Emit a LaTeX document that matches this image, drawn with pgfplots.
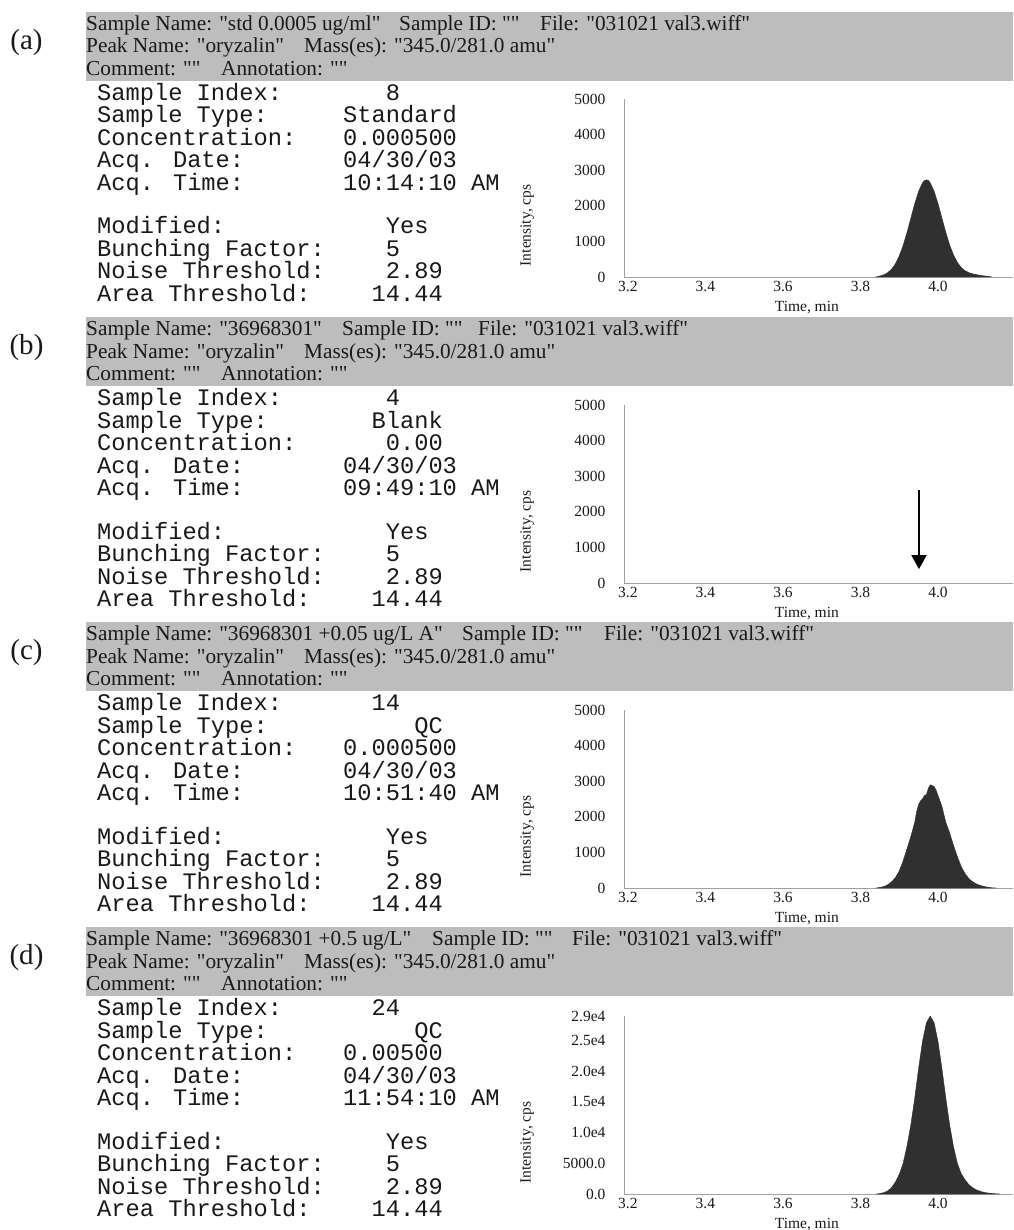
\documentclass[border=0pt]{standalone}
\usepackage{fontspec}
\setmainfont{Liberation Serif}[Ligatures=TeXOff]
\newfontfamily\mono{Liberation Mono}
\usepackage{pgfplots}
\pgfplotsset{compat=1.18}
\usetikzlibrary{arrows.meta}
\definecolor{band}{RGB}{189,189,189}
\definecolor{axgray}{RGB}{160,160,160}
\definecolor{peak}{RGB}{48,48,48}
\definecolor{txt}{RGB}{25,25,25}

\tikzset{hd/.style={anchor=base west, inner sep=0pt, text=txt, font=\fontsize{21.3}{22}\selectfont},
         ms/.style={anchor=base west, inner sep=0pt, text=txt, font=\mono\fontsize{23.7}{24}\selectfont}}

\newcommand{\header}[5]{%
  \fill[band] (86pt,{-(#1)*1pt}) rectangle (1013pt,{-(#1+69)*1pt});
  \node[anchor=center, inner sep=0pt, text=txt, font=\fontsize{29}{30}\selectfont] at (26.5pt,{-(#1+31)*1pt}) {(#2)};
  \node[hd] at (86pt,{-(#1+18.5)*1pt}) {Sample Name: "#3"};
  \node[hd] at (#4pt,{-(#1+18.5)*1pt}) {Sample ID: ""};
  \node[hd] at (#5pt,{-(#1+18.5)*1pt}) {File: "031021 val3.wiff"};
  \node[hd] at (86pt,{-(#1+41)*1pt}) {Peak Name: "oryzalin"};
  \node[hd] at (304pt,{-(#1+41)*1pt}) {Mass(es): "345.0/281.0 amu"};
  \node[hd] at (86pt,{-(#1+63.5)*1pt}) {Comment: ""};
  \node[hd] at (221pt,{-(#1+63.5)*1pt}) {Annotation: ""};
}
% #1 top, #2 index, #3 index col, #4 type, #5 type col, #6 conc, #7 conc col, #8 time
\newcommand{\info}[8]{%
  \node[ms] at (97pt,{-(#1+88.5)*1pt}) {Sample Index:};
  \node[ms] at (97pt,{-(#1+111)*1pt}) {Sample Type:};
  \node[ms] at (97pt,{-(#1+133.5)*1pt}) {Concentration:};
  \node[ms] at (97pt,{-(#1+156)*1pt}) {Acq. Date:};
  \node[ms] at (97pt,{-(#1+178.5)*1pt}) {Acq. Time:};
  \node[ms] at (97pt,{-(#1+222)*1pt}) {Modified:};
  \node[ms] at (97pt,{-(#1+244.5)*1pt}) {Bunching Factor:};
  \node[ms] at (97pt,{-(#1+267)*1pt}) {Noise Threshold:};
  \node[ms] at (97pt,{-(#1+289.5)*1pt}) {Area Threshold:};
  \node[ms] at ({(343+#3*14.22)*1pt},{-(#1+88.5)*1pt}) {#2};
  \node[ms] at ({(343+#5*14.22)*1pt},{-(#1+111)*1pt}) {#4};
  \node[ms] at ({(343+#7*14.22)*1pt},{-(#1+133.5)*1pt}) {#6};
  \node[ms] at (343pt,{-(#1+156)*1pt}) {04/30/03};
  \node[ms] at (343pt,{-(#1+178.5)*1pt}) {#8};
  \node[ms] at ({(343+3*14.22)*1pt},{-(#1+222)*1pt}) {Yes};
  \node[ms] at ({(343+3*14.22)*1pt},{-(#1+244.5)*1pt}) {5};
  \node[ms] at ({(343+3*14.22)*1pt},{-(#1+267)*1pt}) {2.89};
  \node[ms] at ({(343+2*14.22)*1pt},{-(#1+289.5)*1pt}) {14.44};
}

\pgfplotsset{chrom/.style={
  scale only axis, width=389pt, height=178pt,
  xmin=3.19, xmax=4.1935, ymin=0,
  axis lines=left, axis line style={-, axgray, line width=0.8pt},
  xtick={3.2,3.4,3.6,3.8,4.0}, xticklabels={3.2,3.4,3.6,3.8,4.0},
  major tick length=0pt, scaled ticks=false,
  tick label style={font=\fontsize{15.5}{16}\selectfont, text=txt},
  /pgf/number format/assume math mode=true,
  yticklabel style={xshift=-15pt},
  xticklabel style={yshift=-1pt},
  xlabel={Time, min}, ylabel={Intensity, cps},
  label style={font=\fontsize{15.5}{16}\selectfont, text=txt},
  xlabel style={at={(axis description cs:0.47,-0.169)}, anchor=center},
  ylabel style={at={(axis description cs:-0.249,0.29)}, anchor=center},
  clip=false,
},
lowy/.style={ymax=5000, ytick={0,1000,2000,3000,4000,5000},
  yticklabels={0,1000,2000,3000,4000,5000}},
pk/.style={fill=peak, draw=peak, line width=0.4pt}
}

\begin{document}
\begin{tikzpicture}
\path[use as bounding box] (0pt,0pt) rectangle (1013pt,-1230pt);

% ---------- (a)
\header{12}{a}{std 0.0005 ug/ml}{399}{540}
\info{12}{8}{3}{Standard}{0}{0.000500}{0}{10:14:10 AM}
\begin{axis}[chrom, lowy, at={(624pt,-277pt)}, anchor=south west]
\addplot[pk] coordinates {(3.84,0) (3.85,30) (3.86,62) (3.87,120) (3.88,217) (3.89,369) (3.90,591) (3.91,886) (3.92,1250) (3.93,1656) (3.94,2061) (3.95,2409) (3.96,2645) (3.965,2705) (3.97,2730) (3.975,2715) (3.98,2645) (3.99,2409) (4.00,2061) (4.01,1660) (4.02,1260) (4.03,900) (4.04,620) (4.05,410) (4.06,265) (4.07,175) (4.08,120) (4.09,88) (4.10,64) (4.11,45) (4.12,30) (4.13,15) (4.14,0)} \closedcycle;
\end{axis}

% ---------- (b)
\header{317}{b}{36968301}{342}{478}
\info{317}{4}{3}{Blank}{2}{0.00}{3}{09:49:10 AM}
\begin{axis}[chrom, lowy, at={(624pt,-583pt)}, anchor=south west]
\addplot[axgray, line width=0.6pt] coordinates {(3.19,0) (4.19,0)};
\draw[line width=1.8pt, -{Triangle[width=15pt,length=14pt]}] (axis cs:3.951,2600) -- (axis cs:3.951,390);
\end{axis}

% ---------- (c)
\header{622}{c}{36968301 +0.05 ug/L A}{462}{604}
\info{622}{14}{2}{QC}{5}{0.000500}{0}{10:51:40 AM}
\begin{axis}[chrom, lowy, at={(624pt,-888pt)}, anchor=south west]
\addplot[pk] coordinates {(3.84,0) (3.85,15) (3.86,40) (3.87,90) (3.88,170) (3.89,290) (3.90,480) (3.91,760) (3.92,1100) (3.93,1450) (3.94,1850) (3.945,2150) (3.95,2350) (3.955,2450) (3.96,2500) (3.965,2600) (3.97,2620) (3.975,2800) (3.98,2900) (3.985,2880) (3.99,2850) (3.995,2750) (4.00,2600) (4.01,2300) (4.02,1850) (4.03,1550) (4.04,1200) (4.05,880) (4.06,600) (4.07,400) (4.08,260) (4.09,170) (4.10,110) (4.11,70) (4.12,40) (4.13,20) (4.14,5) (4.15,0)} \closedcycle;
\end{axis}

% ---------- (d)
\header{927}{d}{36968301 +0.5 ug/L}{432}{572}
\info{927}{24}{2}{QC}{5}{0.00500}{0}{11:54:10 AM}
\begin{axis}[chrom, at={(624pt,-1194pt)}, anchor=south west, ymax=29000,
  ytick={0,5000,10000,15000,20000,25000,29000},
  yticklabels={0.0,5000.0,1.0e4,1.5e4,2.0e4,2.5e4,2.9e4}]
\addplot[pk] coordinates {(3.84,0) (3.85,80) (3.86,220) (3.87,500) (3.88,1050) (3.89,1950) (3.90,3200) (3.91,5000) (3.92,7800) (3.93,11300) (3.94,15631) (3.95,20503) (3.96,24853) (3.97,27898) (3.98,29000) (3.99,27898) (4.00,24853) (4.01,20503) (4.02,15700) (4.03,11300) (4.04,7700) (4.05,5000) (4.06,3300) (4.07,2300) (4.08,1500) (4.09,1000) (4.10,650) (4.11,420) (4.12,260) (4.13,150) (4.14,80) (4.15,30) (4.16,0)} \closedcycle;
\end{axis}
\end{tikzpicture}
\end{document}
